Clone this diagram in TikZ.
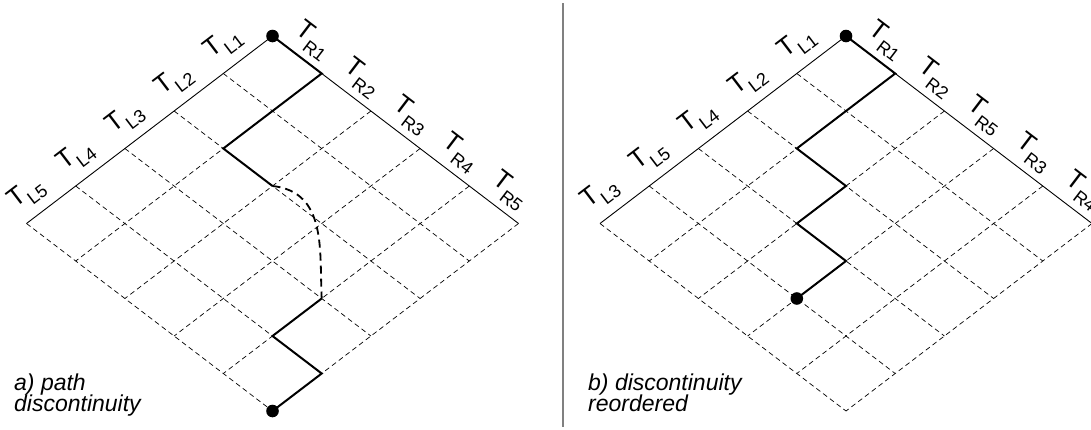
\documentclass[tikz,border=0pt]{standalone}
\usepackage{fontspec}
\setmainfont{Liberation Sans}
\newcommand\tlab[1]{T\raisebox{-0.35em}{\fontsize{18}{18}\selectfont #1}}
\begin{document}
\begin{tikzpicture}[x=1pt,y=-1pt,
  gridline/.style={line width=0.7pt, dash pattern=on 5pt off 3.5pt},
  edge/.style={line width=0.9pt},
  thickpath/.style={line width=2pt, line join=miter},
  jump/.style={line width=1.8pt, dash pattern=on 8pt off 5pt},
  dot/.style={circle, fill=black, inner sep=0pt, minimum size=12.6pt},
  tl/.style={rotate=37.3, inner sep=0pt, font=\fontsize{26}{26}\selectfont},
  tr/.style={rotate=-37.3, inner sep=0pt, font=\fontsize{26}{26}\selectfont},
  caption/.style={anchor=base west, inner sep=0pt, font=\fontsize{23}{23}\selectfont\itshape},
  divider/.style={line width=1.6pt, draw=black!50}]
\useasboundingbox (0,0) rectangle (1091,429);
\def\cx{49.2}\def\cy{37.5}
\foreach \p/\ox in {a/272.5, b/846} {
  \foreach \i in {0,...,5} {
    \foreach \j in {0,...,5} {
      \coordinate (\p-\i-\j) at ({\ox+\cx*(\i-\j)}, {36+\cy*(\i+\j)});
    }
  }
}
% grids
\foreach \p in {a,b} {
  \foreach \k in {1,...,5} {
    \draw[gridline] (\p-\k-0) -- (\p-\k-5);
    \draw[gridline] (\p-0-\k) -- (\p-5-\k);
  }
  \draw[edge] (\p-0-5) -- (\p-0-0) -- (\p-5-0);
}
% paths
\draw[thickpath] (a-0-0) -- (a-1-0) -- (a-1-2) -- (a-2-2);
\draw[jump] (a-2-2) .. controls +(55,6) and +(-2.5,-47) .. (a-4-3);
\draw[thickpath] (a-4-3) -- (a-4-4) -- (a-5-4) -- (a-5-5);
\draw[thickpath] (b-0-0) -- (b-1-0) -- (b-1-2) -- (b-2-2) -- (b-2-3) -- (b-3-3) -- (b-3-4);
\node[dot] (atop) at (a-0-0) {};
\node[dot] (abot) at (a-5-5) {};
\node[dot] (btop) at (b-0-0) {};
\node[dot] (bend) at (b-3-4) {};
% labels left diagram
\foreach \k/\s in {1/L1,2/L2,3/L3,4/L4,5/L5}
  \node[tl] (aL\k) at ({223.5-\cx*(\k-1)}, {44+\cy*(\k-1)}) {\tlab{\s}};
\foreach \k/\s in {1/R1,2/R2,3/R3,4/R4,5/R5}
  \node[tr] (aR\k) at ({312.5+\cx*(\k-1)}, {40.5+\cy*(\k-1)}) {\tlab{\s}};
% labels right diagram
\foreach \k/\s in {1/L1,2/L2,3/L4,4/L5,5/L3}
  \node[tl] (bL\k) at ({797-\cx*(\k-1)}, {44+\cy*(\k-1)}) {\tlab{\s}};
\foreach \k/\s in {1/R1,2/R2,3/R5,4/R3,5/R4}
  \node[tr] (bR\k) at ({886+\cx*(\k-1)}, {40.5+\cy*(\k-1)}) {\tlab{\s}};
% captions
\node[caption] (capa1) at (14,390) {a) path};
\node[caption] (capa2) at (14,411.7) {discontinuity};
\node[caption] (capb1) at (588,390) {b) discontinuity};
\node[caption] (capb2) at (588,411.7) {reordered};
% divider
\coordinate (d1) at (563,3);
\coordinate (d2) at (563,427);
\draw[divider] (d1) -- (d2);
\end{tikzpicture}
\end{document}
